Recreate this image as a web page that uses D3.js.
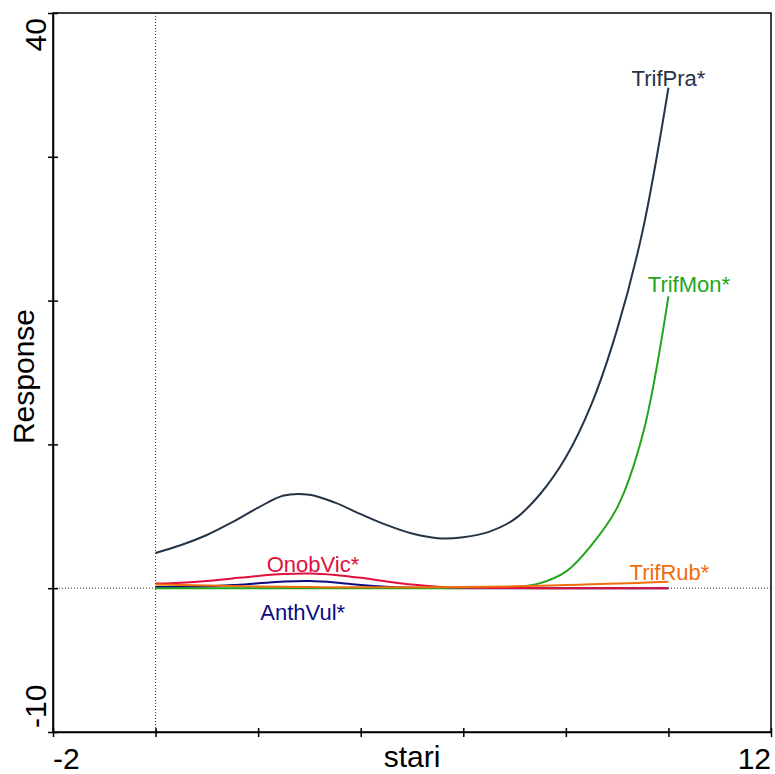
<!DOCTYPE html>
<html>
<head>
<meta charset="utf-8">
<script src="https://cdn.jsdelivr.net/npm/d3@7"></script>
<style>
  html, body { margin: 0; padding: 0; background: #fff; }
  text { font-family: "Liberation Sans", Arial, sans-serif; }
</style>
</head>
<body>
<div id="chart"></div>
<script>
// gradient values (stari), sampled every 0.5
const stari = [0, 0.5, 1, 1.5, 2, 2.5, 3, 3.5, 4, 4.5, 5, 5.5, 6, 6.5, 7, 7.5, 8, 8.5, 9, 9.5, 10];

const trifPra = [2.45, 3.0, 3.7, 4.6, 5.6, 6.45, 6.5, 5.95, 5.15, 4.4, 3.8, 3.48, 3.55, 3.92, 4.8, 6.55, 9.1, 12.8, 18.0, 24.9, 34.8];
const trifMon = [0, 0, 0, 0, 0, 0, 0, 0, 0, 0, 0, 0, 0.01, 0.02, 0.06, 0.35, 1.15, 3.0, 5.6, 10.7, 20.3];
const onobVic = [0.32, 0.38, 0.5, 0.68, 0.85, 0.98, 1.02, 0.92, 0.72, 0.47, 0.25, 0.1, 0.04, 0.02, 0.01, 0, 0, 0, 0, 0, 0];
const anthVul = [0.08, 0.1, 0.14, 0.22, 0.34, 0.46, 0.5, 0.4, 0.22, 0.1, 0.04, 0.01, 0, 0, 0, 0, 0, 0, 0, 0, 0];
const trifRub = [0.25, 0.22, 0.18, 0.15, 0.12, 0.1, 0.08, 0.07, 0.06, 0.06, 0.06, 0.07, 0.08, 0.1, 0.13, 0.17, 0.22, 0.27, 0.32, 0.38, 0.45];

const xTickLabels = ["-2", "12"];
const yTickLabels = ["-10", "40"];

// species: name, values, colour, label anchor (data units)
const species = [
  { name: "AnthVul*", values: anthVul, color: "#0c0c82", lx: 2.87, ly: -2.2 },
  { name: "TrifMon*", values: trifMon, color: "#22a51c", lx: 10.4, ly: 20.6 },
  { name: "OnobVic*", values: onobVic, color: "#e0103c", lx: 3.07, ly: 1.1 },
  { name: "TrifRub*", values: trifRub, color: "#f06d0c", lx: 10.02, ly: 0.56 },
  { name: "TrifPra*", values: trifPra, color: "#243447", lx: 10.0, ly: 34.9 }
];

const W = 775, H = 774;
const pLeft = 53, pRight = 771, pTop = 13, pBottom = 732;

const svg = d3.select("#chart").append("svg")
  .attr("width", W).attr("height", H);

const x = d3.scaleLinear().domain([-2, 12]).range([pLeft, pRight]);
const y = d3.scaleLinear().domain([-10, 40]).range([pBottom, pTop]);

// dotted zero lines
svg.append("line")
  .attr("x1", x(0)).attr("x2", x(0)).attr("y1", pTop).attr("y2", pBottom)
  .attr("stroke", "#333").attr("stroke-width", 1).attr("stroke-dasharray", "1,2");
svg.append("line")
  .attr("x1", pLeft).attr("x2", pRight).attr("y1", y(0)).attr("y2", y(0))
  .attr("stroke", "#333").attr("stroke-width", 1).attr("stroke-dasharray", "1,2");

// curves
const line = d3.line()
  .x((d, i) => x(stari[i]))
  .y(d => y(d))
  .curve(d3.curveCatmullRom.alpha(0.5));

svg.selectAll(".curve")
  .data(species)
  .enter()
  .append("path")
  .attr("class", "curve")
  .attr("d", d => line(d.values))
  .attr("fill", "none")
  .attr("stroke", d => d.color)
  .attr("stroke-width", 2);

svg.selectAll(".lab")
  .data(species)
  .enter()
  .append("text")
  .attr("class", "lab")
  .attr("x", d => x(d.lx))
  .attr("y", d => y(d.ly))
  .attr("text-anchor", "middle")
  .attr("font-size", 22)
  .attr("fill", d => d.color)
  .text(d => d.name);

// frame
svg.append("rect")
  .attr("x", pLeft).attr("y", pTop)
  .attr("width", pRight - pLeft).attr("height", pBottom - pTop)
  .attr("fill", "none").attr("stroke", "#000").attr("stroke-width", 1.5);

// axes with crossing ticks
const xAxis = d3.axisBottom(x).tickValues(d3.range(-2, 13, 2))
  .tickSizeInner(5).tickSizeOuter(0).tickFormat("");
const gx = svg.append("g").attr("transform", `translate(0,${pBottom})`).call(xAxis);
gx.select(".domain").attr("stroke-width", 1.5);
gx.selectAll(".tick line").attr("y1", -4).attr("y2", 5).attr("stroke-width", 1.5);

const yAxis = d3.axisLeft(y).tickValues(d3.range(-10, 41, 10))
  .tickSizeInner(5).tickSizeOuter(0).tickFormat("");
const gy = svg.append("g").attr("transform", `translate(${pLeft},0)`).call(yAxis);
gy.select(".domain").attr("stroke-width", 1.5);
gy.selectAll(".tick line").attr("x1", 5).attr("x2", -5).attr("stroke-width", 1.5);

// end tick labels
svg.append("text").attr("x", pLeft).attr("y", 769)
  .attr("text-anchor", "start").attr("font-size", 30).text(xTickLabels[0]);
svg.append("text").attr("x", pRight).attr("y", 769)
  .attr("text-anchor", "end").attr("font-size", 30).text(xTickLabels[1]);

svg.append("text")
  .attr("transform", `translate(46,${pBottom - 4}) rotate(-90)`)
  .attr("text-anchor", "start").attr("font-size", 30).text(yTickLabels[0]);
svg.append("text")
  .attr("transform", `translate(46,${pTop + 5}) rotate(-90)`)
  .attr("text-anchor", "end").attr("font-size", 30).text(yTickLabels[1]);

// axis titles
svg.append("text")
  .attr("x", (pLeft + pRight) / 2).attr("y", 767)
  .attr("text-anchor", "middle").attr("font-size", 30).text("stari");
svg.append("text")
  .attr("transform", `translate(34,${(pTop + pBottom) / 2 + 4}) rotate(-90)`)
  .attr("text-anchor", "middle").attr("font-size", 30).text("Response");
</script>
</body>
</html>
